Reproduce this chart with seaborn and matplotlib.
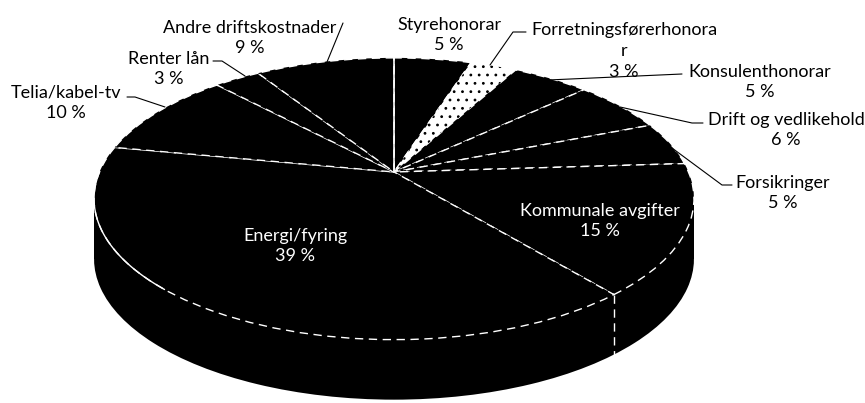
import numpy as np
import matplotlib
matplotlib.use("Agg")
import matplotlib.pyplot as plt
import matplotlib.transforms as mtransforms
from matplotlib.patches import Rectangle, Wedge
import seaborn as sns

# data
categories = ["Styrehonorar", "Forretningsførerhonorar", "Konsulenthonorar",
              "Drift og vedlikehold", "Forsikringer", "Kommunale avgifter",
              "Energi/fyring", "Telia/kabel-tv", "Renter lån", "Andre driftskostnader"]
shares = [5, 3, 5, 6, 5, 15, 39, 10, 3, 9]
label_text = ["Styrehonorar\n5 %", "Forretningsførerhonora\nr\n3 %", "Konsulenthonorar\n5 %",
              "Drift og vedlikehold\n6 %", "Forsikringer\n5 %", "Kommunale avgifter\n15 %",
              "Energi/fyring\n39 %", "Telia/kabel-tv\n10 %", "Renter lån\n3 %",
              "Andre driftskostnader\n9 %"]

sns.set_theme(style="white")
plt.rcParams["font.family"] = ["Lato", "DejaVu Sans"]
plt.rcParams["hatch.linewidth"] = 0.8

W, H = 865, 403
CX, CY = 394, 172       # pie centre in pixels
A, B, Q = 294.5, 135.8, 0.19
DEPTH = 60


class Tilt(mtransforms.Transform):
    """simple perspective view of the unit pie"""
    input_dims = output_dims = 2

    def transform_non_affine(self, v):
        v = np.asarray(v, float)
        x, y = v[:, 0], v[:, 1]
        d = 1 + Q * y
        return np.column_stack([CX + A * x / d, CY - B * y / d])


fig = plt.figure(figsize=(W / 100, H / 100), dpi=100)
ax = fig.add_axes([0, 0, 1, 1])
tilt = Tilt()
to_px = tilt + ax.transData

# side wall
side, _ = ax.pie([1], colors=["black"], wedgeprops=dict(linewidth=0))
for p in side:
    p.set_transform(tilt + mtransforms.Affine2D().translate(0, DEPTH) + ax.transData)
half = A / np.sqrt(1 - Q ** 2)
y_wide = CY + B * Q / (1 - Q ** 2)
ax.add_patch(Rectangle((CX - half, y_wide), 2 * half, DEPTH, color="black", lw=0))

# top face
cols = ["black"] * len(shares)
cols[1] = "white"
wedges, _ = ax.pie(shares, colors=cols, startangle=90, counterclock=False,
                   wedgeprops=dict(edgecolor="white", linewidth=1.0, linestyle=(0, (6, 4))))
for w in wedges:
    w.set_transform(to_px)

# speckled slice
w = wedges[1]
speck = Wedge((0, 0), 1, w.theta1, w.theta2, facecolor="none", edgecolor="black",
              hatch="..", linewidth=0)
speck.set_transform(to_px)
ax.add_patch(speck)

# solid line at 12 o'clock
ax.plot([0, 0], [0, 1], color="white", lw=1.2, transform=to_px)

# rim of Energi on the left
t = np.deg2rad(np.linspace(180, 228, 40))
ax.plot(np.cos(t), np.sin(t), color="white", lw=1, transform=to_px)

# edge of Kommunale/Energi down the side
ang = np.deg2rad(90 - 360 * np.cumsum(shares)[5] / 100)
x0, y0 = tilt.transform(np.array([[np.cos(ang), np.sin(ang)]]))[0]
ax.plot([x0, x0], [y0, y0 + DEPTH], color="white", lw=1, ls=(0, (6, 4)))

ax.set_aspect("auto")
ax.set_xlim(0, W)
ax.set_ylim(H, 0)
ax.axis("off")

# labels (pixel positions)
pos = [(449, 35), (624, 51), (760, 82), (786, 130), (783, 193),
       (600, 221), (295, 246), (66, 103), (169, 69), (250, 38)]
for i, (txt, (x, y)) in enumerate(zip(label_text, pos)):
    color = "white" if i in (5, 6) else "black"
    ax.text(x, y, txt, ha="center", va="center", fontsize=13, color=color, linespacing=1.35)

leaders = [
    [(490, 65), (513, 32), (526, 32)],
    [(548, 80), (682, 74)],
    [(620, 107), (692, 123), (703, 123)],
    [(672, 148), (722, 185), (732, 185)],
    [(165, 107), (135, 97), (127, 97)],
    [(245, 76), (222, 61), (213, 61)],
    [(327, 62), (343, 23)],
]
for pts in leaders:
    xs, ys = zip(*pts)
    ax.plot(xs, ys, color="black", lw=0.8)

fig.savefig("out.png", dpi=100, facecolor="white")
